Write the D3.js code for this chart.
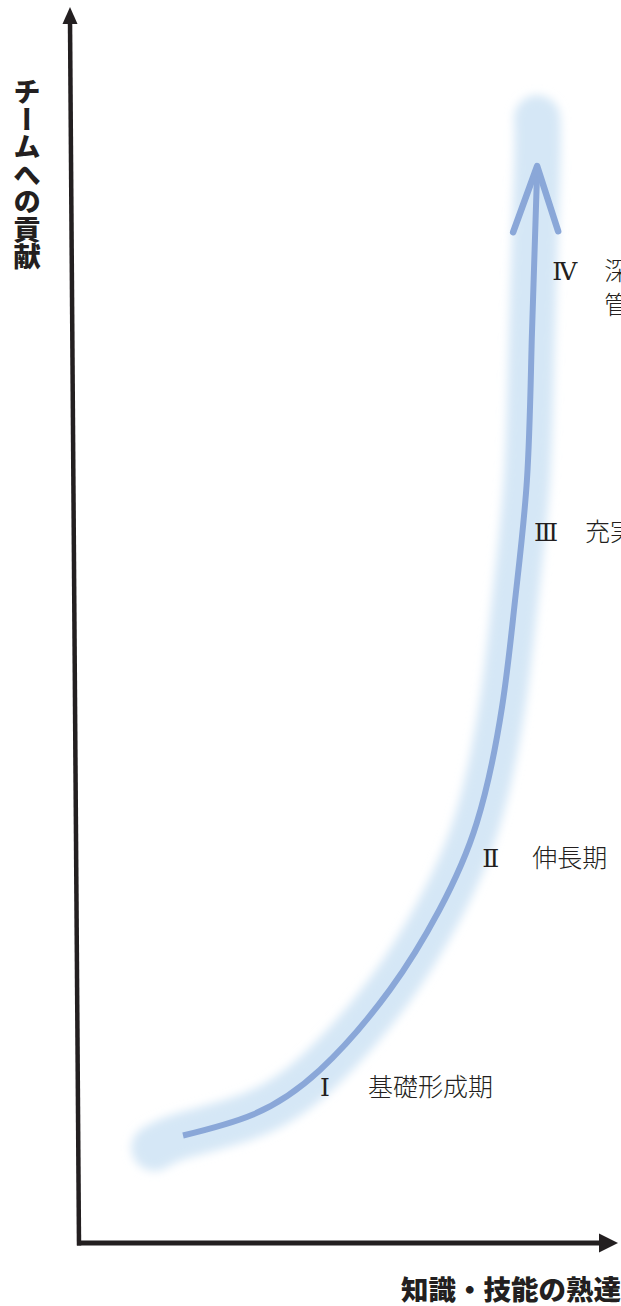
<!DOCTYPE html>
<html>
<head>
<meta charset="utf-8">
<script src="https://cdn.jsdelivr.net/npm/d3@7"></script>
<style>
  body { margin: 0; background: #fff; }
  svg { display: block; }
</style>
</head>
<body>
<svg id="chart" width="621" height="1306"></svg>
<script>
/*************************
 *  data (0-100 units on both axes)
*************************/

// growth curve: skill mastery (x) vs contribution to team (y)
let skill   = [19.3, 32.3, 44.7, 57.7, 66.8, 73.8, 78.5, 80.9, 83.1, 84.0, 85.0]
let contrib = [ 8.7, 10.4, 14.0, 20.5, 26.9, 34.0, 43.4, 52.0, 61.7, 73.1, 86.8]

// soft halo behind the curve, a bit longer at both ends
let haloSkill   = [14.0, 19.3, 32.3, 44.7, 57.7, 66.8, 73.8, 78.5, 80.9, 83.1, 84.0, 85.0, 85.0]
let haloContrib = [ 7.7,  8.7, 10.4, 14.0, 20.5, 26.9, 34.0, 43.4, 52.0, 61.7, 73.1, 86.8, 91.0]

// stage labels
let stageNum   = ["Ⅰ", "Ⅱ", "Ⅲ", "Ⅳ"]
let stageName  = [["基礎形成期"], ["伸長期"], ["充実期"], ["深化・", "管理期"]]
let stageX     = [44.7, 74.8, 84.4, 87.8]
let stageY     = [11.9, 30.4, 56.8, 77.9]

let xTitle = "知識・技能の熟達"
let yTitle = "チームへの貢献"

/*************************
 *  scales
*************************/
const svg = d3.select('#chart')

let x = d3.scaleLinear().domain([0, 100]).range([79, 618])
let y = d3.scaleLinear().domain([0, 100]).range([1243, 7])

const defs = svg.append('defs')
defs.append('filter')
    .attr('id', 'blur')
    .attr('x', '-50%').attr('y', '-10%')
    .attr('width', '200%').attr('height', '120%')
  .append('feGaussianBlur')
    .attr('stdDeviation', 5)

/*************************
 *  axes (plain arrows, no ticks)
*************************/
let axisG = svg.append('g').attr('id', 'axes')

// x axis
axisG.append('line')
    .attr('x1', x(0) - 2).attr('y1', y(0))
    .attr('x2', x(100) - 16).attr('y2', y(0))
    .attr('stroke', '#231f20').attr('stroke-width', 5)
axisG.append('path')
    .attr('d', `M${x(100)},${y(0)} L${x(100) - 19},${y(0) - 9.5} L${x(100) - 19},${y(0) + 9.5} Z`)
    .attr('fill', '#231f20')

// y axis (drawn slightly leaning, as in the original)
let topX = x(0) - 9
axisG.append('line')
    .attr('x1', x(0)).attr('y1', y(0) + 2.5)
    .attr('x2', topX).attr('y2', y(100) + 14)
    .attr('stroke', '#231f20').attr('stroke-width', 4.5)
axisG.append('path')
    .attr('d', `M${topX},${y(100)} L${topX - 7.5},${y(100) + 17} L${topX + 7.5},${y(100) + 17} Z`)
    .attr('fill', '#231f20')

/*************************
 *  curve
*************************/
let line = d3.line()
    .x(d => x(d[0]))
    .y(d => y(d[1]))
    .curve(d3.curveNatural)

svg.append('path')
    .datum(d3.zip(haloSkill, haloContrib))
    .attr('d', line)
    .attr('fill', 'none')
    .attr('stroke', '#d5e7f6')
    .attr('stroke-width', 46)
    .attr('stroke-linecap', 'round')
    .attr('stroke-linejoin', 'round')
    .attr('filter', 'url(#blur)')

svg.append('path')
    .datum(d3.zip(skill, contrib))
    .attr('d', line)
    .attr('fill', 'none')
    .attr('stroke', '#8aa7d8')
    .attr('stroke-width', 6)
    .attr('stroke-linecap', 'butt')

// open arrow head at the end of the curve
let tip = [x(skill[skill.length - 1]), y(contrib[contrib.length - 1]) - 4]
svg.append('path')
    .attr('d', `M${tip[0] - 24},${tip[1] + 66} L${tip[0]},${tip[1]} L${tip[0] + 21},${tip[1] + 65}`)
    .attr('fill', 'none')
    .attr('stroke', '#8aa7d8')
    .attr('stroke-width', 6.5)
    .attr('stroke-linecap', 'round')
    .attr('stroke-linejoin', 'round')

/*************************
 *  stage labels
*************************/
let labelG = svg.append('g')
    .selectAll('.stage')
    .data(stageNum.map((s, i) => ({num: s, name: stageName[i], x: stageX[i], y: stageY[i]})))
    .join('g')
    .attr('class', 'stage')
    .attr('transform', d => `translate(${x(d.x)},${y(d.y)})`)

labelG.append('text')
    .attr('x', 0).attr('y', 0)
    .attr('font-family', '"DejaVu Serif", "Liberation Serif", serif')
    .attr('font-size', 25)
    .attr('fill', '#231f20')
    .text(d => d.num)

labelG.each(function(d, i) {
    let gap = [48, 50, 51, 52][i]
    d3.select(this).selectAll('.name')
        .data(d.name)
        .join('text')
        .attr('class', 'name')
        .attr('x', gap)
        .attr('y', (t, j) => j * 34)
        .attr('font-family', '"Noto Sans CJK JP", sans-serif')
        .attr('font-weight', 300)
        .attr('font-size', 25)
        .attr('fill', '#231f20')
        .text(t => t)
})

/*************************
 *  axis titles
*************************/
svg.append('text')
    .attr('x', 27).attr('y', 78)
    .style('writing-mode', 'vertical-rl')
    .attr('font-family', '"Noto Sans CJK JP", sans-serif')
    .attr('font-weight', 900)
    .attr('font-size', 27.5)
    .attr('fill', '#231f20')
    .text(yTitle)

svg.append('text')
    .attr('x', 621).attr('y', 1300)
    .attr('text-anchor', 'end')
    .attr('font-family', '"Noto Sans CJK JP", sans-serif')
    .attr('font-weight', 900)
    .attr('font-size', 27.5)
    .attr('fill', '#231f20')
    .text(xTitle)
</script>
</body>
</html>
